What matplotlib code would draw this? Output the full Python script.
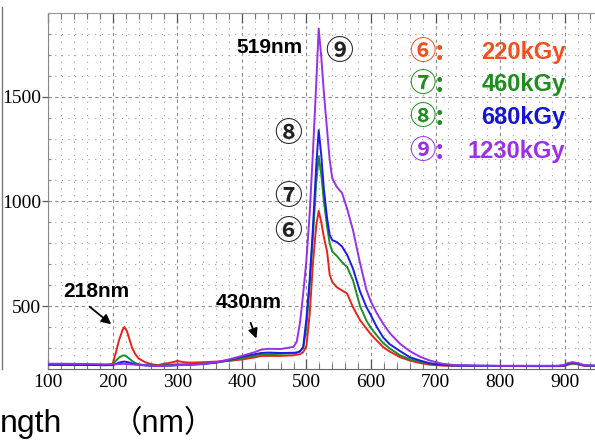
import matplotlib
matplotlib.use("Agg")
import matplotlib.pyplot as plt
from matplotlib.lines import Line2D
from matplotlib.ticker import MultipleLocator

# ── Data ─────────────────────────────────────────────────────────────────────

wl = [100, 150, 190, 200, 205, 210, 215, 218, 222, 226,
      230, 235, 240, 250, 260, 270, 280, 290, 300, 310,
      320, 340, 360, 380, 400, 420, 430, 440, 460, 480,
      485, 490, 495, 500, 505, 510, 515, 519, 523, 527,
      532, 536, 540, 547, 555, 563, 572, 583, 593, 600,
      609, 619, 629, 645, 660, 676, 691, 710, 730, 760,
      800, 850, 890, 900, 905, 912, 920, 930, 947]

red_220 = [222, 220, 218, 225, 280, 340, 385, 400, 380, 340,
           300, 270, 250, 232, 222, 218, 225, 230, 238, 232,
           230, 232, 235, 238, 245, 255, 262, 262, 262, 265,
           268, 270, 280, 310, 460, 700, 880, 955, 900, 830,
           760, 650, 615, 590, 575, 560, 495, 433, 392, 365,
           335, 304, 283, 256, 240, 228, 220, 216, 215, 214,
           214, 213, 213, 214, 220, 225, 222, 215, 214]

green_460 = [220, 219, 218, 220, 240, 255, 263, 265, 258, 248,
             238, 228, 222, 218, 216, 215, 218, 220, 222, 222,
             222, 225, 230, 240, 252, 262, 268, 270, 272, 275,
             278, 285, 300, 400, 600, 830, 1080, 1215, 1130, 1000,
             880, 800, 760, 740, 710, 687, 624, 500, 430, 395,
             360, 323, 298, 265, 246, 234, 225, 218, 216, 215,
             214, 214, 214, 216, 222, 226, 224, 216, 214]

blue_680 = [220, 219, 218, 218, 224, 230, 234, 235, 233, 230,
            226, 222, 220, 217, 215, 214, 215, 216, 218, 219,
            220, 223, 230, 243, 258, 270, 276, 278, 276, 277,
            278, 283, 305, 440, 624, 870, 1160, 1340, 1220, 1060,
            920, 840, 815, 806, 785, 745, 680, 570, 495, 455,
            400, 350, 318, 285, 256, 240, 227, 219, 216, 215,
            214, 214, 214, 217, 225, 230, 226, 217, 215]

purple_1230 = [225, 224, 222, 222, 222, 223, 224, 224, 223, 222,
               221, 220, 219, 217, 215, 214, 215, 216, 218, 219,
               220, 224, 232, 245, 262, 280, 292, 296, 295, 305,
               330, 420, 560, 720, 940, 1230, 1550, 1825, 1690, 1520,
               1340, 1200, 1110, 1069, 1041, 965, 864, 706, 577, 520,
               466, 415, 371, 320, 285, 258, 240, 225, 218, 216,
               215, 215, 215, 220, 228, 232, 228, 218, 216]

series = [red_220, green_460, blue_680, purple_1230]
line_colors = ["#e8231c", "#1e8c28", "#1c1ce6", "#9632e6"]

doses = ["220kGy", "460kGy", "680kGy", "1230kGy"]
marks = ["⑥", "⑦", "⑧", "⑨"]
mark_colors = ["#f0501e", "#1e8c1e", "#1e8c1e", "#9b30e6"]
dose_colors = ["#f0501e", "#1e8c1e", "#1414d2", "#9b30e6"]

xticks = [100, 200, 300, 400, 500, 600, 700, 800, 900]
yticks = [500, 1000, 1500]

CJK = ["Liberation Sans", "Noto Sans CJK JP"]

# ── Figure ───────────────────────────────────────────────────────────────────

fig = plt.figure(figsize=(5.95, 4.45), dpi=100)
ax = fig.add_axes([0.081, 0.171, 0.919, 0.80])

for ys, c in zip(series, line_colors):
    ax.plot(wl, ys, color=c, linewidth=1.4, zorder=3)

ax.set_xlim(100, 947)
ax.set_ylim(200, 1900)

ax.set_xticks(xticks)
ax.set_yticks(yticks)
ax.xaxis.set_minor_locator(MultipleLocator(20))
ax.yaxis.set_minor_locator(MultipleLocator(100))

ax.grid(which="major", color="#8a8a8a", linestyle=(0, (3, 3)), linewidth=0.8)
ax.grid(which="minor", color="#a0a0a0", linestyle=(0, (1, 5)), linewidth=0.8)

ax.tick_params(axis="x", which="major", direction="in", length=7, width=0.9,
               top=True, pad=4, colors="#555555", labelcolor="black")
ax.tick_params(axis="x", which="minor", direction="in", length=4, width=0.8,
               top=True, colors="#777777")
ax.tick_params(axis="y", which="major", direction="out", length=4, width=0.9,
               pad=1, colors="#555555", labelcolor="black")
ax.tick_params(axis="y", which="minor", direction="in", length=2, width=0.8,
               colors="#888888")

for lab in ax.get_xticklabels() + ax.get_yticklabels():
    lab.set_fontfamily("Liberation Serif")
    lab.set_fontsize(14)

ax.spines["right"].set_visible(False)
ax.spines["top"].set_color("#999999")
ax.spines["left"].set_color("#888888")
ax.spines["bottom"].set_color("#666666")

# ── Annotations ──────────────────────────────────────────────────────────────

bold = dict(fontfamily="Liberation Sans", fontweight="bold", color="black")
ax.text(494, 1734, "519nm", ha="right", va="center", fontsize=15, **bold)
ax.text(175, 572, "218nm", ha="center", va="center", fontsize=15, **bold)
ax.text(411, 519, "430nm", ha="center", va="center", fontsize=15, **bold)

arrow = dict(arrowstyle="-|>", color="black", lw=1.3, mutation_scale=14)
ax.annotate("", xy=(201, 405), xytext=(161, 505), arrowprops=arrow)
ax.annotate("", xy=(424, 333), xytext=(412, 433), arrowprops=arrow)

for m, (x, y) in zip(marks, [(471, 854), (471, 1022), (471, 1323), (550, 1715)]):
    ax.text(x, y, m, ha="center", va="center", fontsize=20, fontweight="bold",
            family=["Noto Sans CJK JP"], color="#222222")

for i, (m, d) in enumerate(zip(marks, doses)):
    y = [1711, 1557, 1400, 1237][i]
    ax.text(659, y, m + ":", ha="left", va="center", fontsize=19,
            fontweight="bold", family=["Noto Sans CJK JP"], color=mark_colors[i])
    ax.text(901, y, d, ha="right", va="center", fontsize=17,
            fontfamily="Liberation Sans", fontweight="bold", color=dose_colors[i])

# remnant of neighbouring panel at the very left edge
fig.add_artist(Line2D([0.004, 0.004], [0.17, 0.985], color="#777777", lw=1.0))

# cropped axis label
fig.text(0.104, 0.03, "ngth", ha="right", va="baseline", fontsize=23, family=CJK)
fig.text(0.188, 0.03, "（nm）", ha="left", va="baseline", fontsize=22, family=CJK)

fig.savefig("out.png", dpi=100)
